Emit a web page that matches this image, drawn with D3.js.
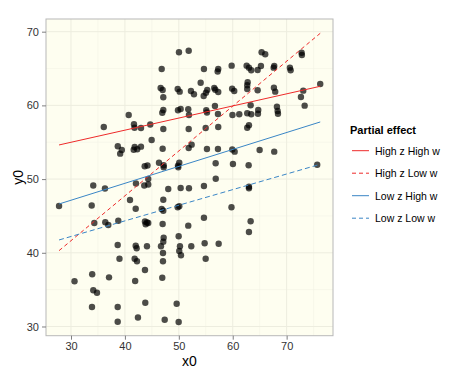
<!DOCTYPE html>
<html>
<head>
<meta charset="utf-8">
<script src="https://cdn.jsdelivr.net/npm/d3@7"></script>
<style>
  body { margin: 0; background: #fff; }
  text { font-family: "Liberation Sans", Arial, sans-serif; }
</style>
</head>
<body>
<svg id="chart" width="473" height="379"></svg>
<script>
// ---- data ----
const pointX = [27.78,34.13,36.30,33.84,34.32,36.36,36.92,38.77,40.94,42.00,42.05,38.66,42.00,42.18,38.99,41.81,42.24,30.65,33.93,37.05,41.90,34.13,34.82,33.89,38.66,38.66,42.42,36.08,40.70,41.68,41.78,42.98,38.68,39.42,39.12,41.63,41.81,42.28,42.98,43.67,44.19,43.59,44.33,44.33,44.70,44.96,43.72,43.85,44.09,44.33,44.09,43.72,43.78,46.82,
50.03,51.83,46.82,54.66,57.31,57.20,59.80,54.05,46.63,47.00,47.12,49.79,50.16,52.25,52.81,55.27,55.03,54.61,56.57,56.76,57.31,59.89,60.28,47.12,46.93,49.84,50.34,51.75,51.88,55.09,55.22,56.70,57.26,59.95,47.12,51.83,54.98,57.31,47.00,52.38,51.83,55.22,57.26,59.91,60.36,46.32,47.19,47.19,49.84,50.08,49.90,56.83,60.04,56.85,48.04,50.34,51.88,54.66,47.12,47.12,49.79,50.08,59.77,47.00,51.75,54.66,47.19,47.12,49.97,46.69,50.21,50.08,50.40,52.31,54.79,57.39,47.06,47.06,54.98,46.93,49.60,47.38,49.97,
65.36,66.03,72.78,72.83,62.58,63.01,63.43,64.62,65.23,67.70,67.59,70.61,70.74,62.77,62.69,62.69,64.62,67.64,67.88,73.08,72.65,76.23,73.34,63.32,64.73,64.68,62.69,63.43,61.21,68.20,68.33,68.39,63.01,62.69,64.99,67.70,62.95,75.67,63.01,63.01,63.32,63.01];
const pointY = [46.35,49.13,48.72,46.42,44.04,44.14,43.77,44.35,47.16,45.98,49.40,41.06,40.96,40.61,39.20,39.20,38.85,36.13,37.08,36.67,36.17,34.91,34.58,32.64,32.64,30.65,31.22,57.07,58.70,57.43,56.97,56.93,54.46,53.95,53.45,53.97,54.35,54.04,54.40,51.75,51.84,49.13,49.27,50.01,57.41,55.30,44.25,43.87,44.11,44.04,40.88,37.67,33.23,45.94,
67.20,67.42,64.94,64.94,64.94,64.60,65.39,63.08,62.36,62.09,61.10,62.22,61.86,61.95,61.51,62.09,61.72,61.28,62.36,62.13,61.82,62.27,61.95,59.38,59.01,59.33,59.51,59.47,58.70,59.33,59.04,59.92,58.83,58.70,56.80,56.80,56.93,57.07,54.12,54.67,54.22,54.08,54.08,54.02,53.72,52.22,51.87,51.60,51.82,52.22,51.60,52.14,52.05,50.05,48.66,48.79,48.75,49.06,47.20,45.71,46.17,46.31,46.17,43.91,43.68,44.76,42.05,41.51,42.24,40.88,40.88,40.24,39.66,40.88,41.29,41.23,39.97,38.85,39.20,36.62,33.09,30.92,30.61,
67.20,66.93,67.15,66.84,65.39,65.12,64.76,64.80,65.35,65.35,65.12,65.12,64.76,63.13,62.73,62.22,62.05,62.40,61.86,62.00,61.14,62.90,59.96,60.01,59.38,58.87,58.93,58.79,58.79,59.82,59.24,58.87,57.30,56.97,53.95,53.72,51.87,51.95,48.97,48.75,44.27,42.82];

const lineNames = ["High z High w", "High z Low w", "Low z High w", "Low z Low w"];
const lineX0 = [27.78, 27.78, 27.78, 27.78];
const lineX1 = [76.23, 76.23, 76.23, 76.23];
const lineY0 = [54.63, 40.29, 46.62, 41.74];
const lineY1 = [62.59, 69.78, 57.75, 52.01];
const lineColors = ["#ee2a2a", "#ee2a2a", "#3a86c6", "#3a86c6"];
const lineDash = [null, "4,3", null, "5,3"];

const xTicks = [30, 40, 50, 60, 70];
const yTicks = [30, 40, 50, 60, 70];
const xMinor = [35, 45, 55, 65, 75];
const yMinor = [35, 45, 55, 65];

// ---- layout ----
const svg = d3.select("#chart");
const P = { left: 46, top: 19, right: 333, bottom: 335.7 };
const x = d3.scaleLinear().domain([25.36, 78.6]).range([P.left, P.right]);
const y = d3.scaleLinear().domain([28.75, 71.72]).range([P.bottom, P.top]);

// panel
svg.append("rect").attr("x", P.left).attr("y", P.top)
  .attr("width", P.right - P.left).attr("height", P.bottom - P.top)
  .attr("fill", "#fefef0");

const grid = svg.append("g");
grid.selectAll(".xm").data(xMinor).join("line")
  .attr("x1", d => x(d)).attr("x2", d => x(d)).attr("y1", P.top).attr("y2", P.bottom)
  .attr("stroke", "#f4f4e6").attr("stroke-width", 0.6);
grid.selectAll(".ym").data(yMinor).join("line")
  .attr("y1", d => y(d)).attr("y2", d => y(d)).attr("x1", P.left).attr("x2", P.right)
  .attr("stroke", "#f4f4e6").attr("stroke-width", 0.6);
grid.selectAll(".xM").data(xTicks).join("line")
  .attr("x1", d => x(d)).attr("x2", d => x(d)).attr("y1", P.top).attr("y2", P.bottom)
  .attr("stroke", "#ededdf").attr("stroke-width", 1);
grid.selectAll(".yM").data(yTicks).join("line")
  .attr("y1", d => y(d)).attr("y2", d => y(d)).attr("x1", P.left).attr("x2", P.right)
  .attr("stroke", "#ededdf").attr("stroke-width", 1);

// points
const pts = pointX.map((v, i) => ({ x: v, y: pointY[i] }));
svg.append("g").selectAll("circle").data(pts).join("circle")
  .attr("cx", d => x(d.x)).attr("cy", d => y(d.y)).attr("r", 3.2)
  .attr("fill", "#000").attr("fill-opacity", 0.7);

// lines
const lines = lineNames.map((n, i) => ({ n, i }));
svg.append("g").selectAll("line").data(lines).join("line")
  .attr("x1", d => x(lineX0[d.i])).attr("y1", d => y(lineY0[d.i]))
  .attr("x2", d => x(lineX1[d.i])).attr("y2", d => y(lineY1[d.i]))
  .attr("stroke", d => lineColors[d.i]).attr("stroke-width", 1)
  .attr("stroke-dasharray", d => lineDash[d.i]);

// panel border
svg.append("rect").attr("x", P.left).attr("y", P.top)
  .attr("width", P.right - P.left).attr("height", P.bottom - P.top)
  .attr("fill", "none").attr("stroke", "#b8b8b8").attr("stroke-width", 1);

// axes
const xAxis = svg.append("g").attr("transform", `translate(0,${P.bottom})`)
  .call(d3.axisBottom(x).tickValues(xTicks).tickSize(4).tickPadding(3));
const yAxis = svg.append("g").attr("transform", `translate(${P.left},0)`)
  .call(d3.axisLeft(y).tickValues(yTicks).tickSize(4).tickPadding(3));
[xAxis, yAxis].forEach(a => {
  a.select(".domain").remove();
  a.selectAll(".tick line").attr("stroke", "#7f7f7f");
  a.selectAll(".tick text").attr("fill", "#333").style("font-size", "11px")
    .style("font-family", "'Liberation Sans', Arial, sans-serif");
});

// axis titles
svg.append("text").attr("x", (P.left + P.right) / 2).attr("y", 366)
  .attr("text-anchor", "middle").style("font-size", "14px").attr("fill", "#000").text("x0");
svg.append("text").attr("transform", `translate(23,${(P.top + P.bottom) / 2}) rotate(-90)`)
  .attr("text-anchor", "middle").style("font-size", "14px").attr("fill", "#000").text("y0");

// legend
const lg = svg.append("g").attr("transform", "translate(350,0)");
lg.append("text").attr("x", 0).attr("y", 134).style("font-size", "11px")
  .style("font-weight", "bold").text("Partial effect");
const items = lg.selectAll(".item").data(lines).join("g")
  .attr("transform", d => `translate(0,${150.7 + d.i * 22.5})`);
items.append("line").attr("x1", 2).attr("x2", 19).attr("y1", 0).attr("y2", 0)
  .attr("stroke", d => lineColors[d.i]).attr("stroke-width", 1)
  .attr("stroke-dasharray", d => lineDash[d.i] ? "4,3" : null);
items.append("text").attr("x", 25).attr("y", 3.8).style("font-size", "10.5px")
  .attr("fill", "#000").text(d => d.n);
</script>
</body>
</html>
